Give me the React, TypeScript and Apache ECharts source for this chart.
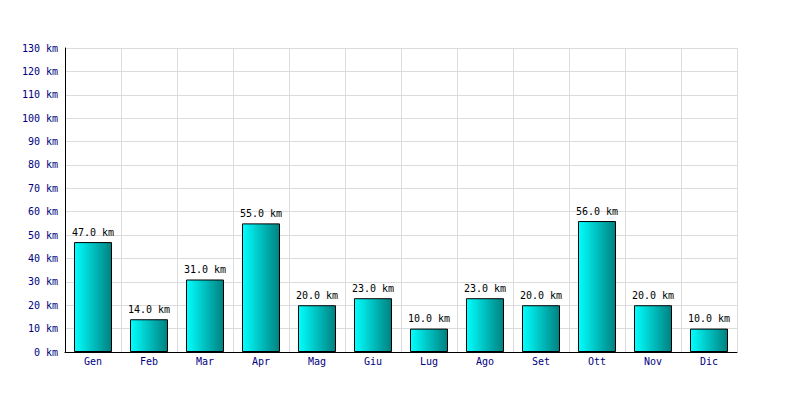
import React, { useEffect, useRef } from "react";
import * as echarts from "echarts";

const months = ["Gen", "Feb", "Mar", "Apr", "Mag", "Giu", "Lug", "Ago", "Set", "Ott", "Nov", "Dic"];
const distances = [47, 14, 31, 55, 20, 23, 10, 23, 20, 56, 20, 10];
const yMin = 0;
const yMax = 130;
const yStep = 10;

const FONT = "'DejaVu Sans Mono', monospace";

export default function App() {
  const ref = useRef<HTMLDivElement>(null);
  useEffect(() => {
    if (!ref.current) return;
    const chart = echarts.init(ref.current, null, { renderer: "svg" });
    chart.setOption({
      animation: false,
      backgroundColor: "#ffffff",
      grid: { left: 65, right: 63, top: 48, bottom: 48, containLabel: false },
      xAxis: {
        type: "category",
        data: months,
        boundaryGap: true,
        axisLine: { show: true, lineStyle: { color: "#000000", width: 1 } },
        axisTick: { show: false },
        splitLine: { show: true, lineStyle: { color: "#dcdcdc", width: 1 } },
        axisLabel: { color: "#000080", fontFamily: FONT, fontSize: 10, margin: 4, interval: 0 },
      },
      yAxis: {
        type: "value",
        min: yMin,
        max: yMax,
        interval: yStep,
        axisLine: { show: true, lineStyle: { color: "#000000", width: 1 } },
        axisTick: { show: false },
        splitLine: { show: true, lineStyle: { color: "#dcdcdc", width: 1 } },
        axisLabel: {
          color: "#000080",
          fontFamily: FONT,
          fontSize: 10,
          margin: 7,
          formatter: (v: number) => `${v} km`,
        },
      },
      series: [
        {
          type: "bar",
          data: distances,
          barWidth: 38,
          itemStyle: {
            color: new echarts.graphic.LinearGradient(0, 0, 1, 0, [
              { offset: 0, color: "#00ffff" },
              { offset: 1, color: "#008080" },
            ]),
            borderColor: "#000000",
            borderWidth: 1,
          },
          label: {
            show: true,
            position: "top",
            distance: 5,
            color: "#000000",
            textBorderWidth: 0,
            textBorderColor: "transparent",
            fontFamily: FONT,
            fontSize: 10,
            formatter: (p: any) => `${Number(p.value).toFixed(1)} km`,
          },
        },
      ],
    });
    return () => chart.dispose();
  }, []);
  return (
    <div
      ref={ref}
      style={{ position: "fixed", left: 0, top: 0, width: 800, height: 400 }}
    />
  );
}
